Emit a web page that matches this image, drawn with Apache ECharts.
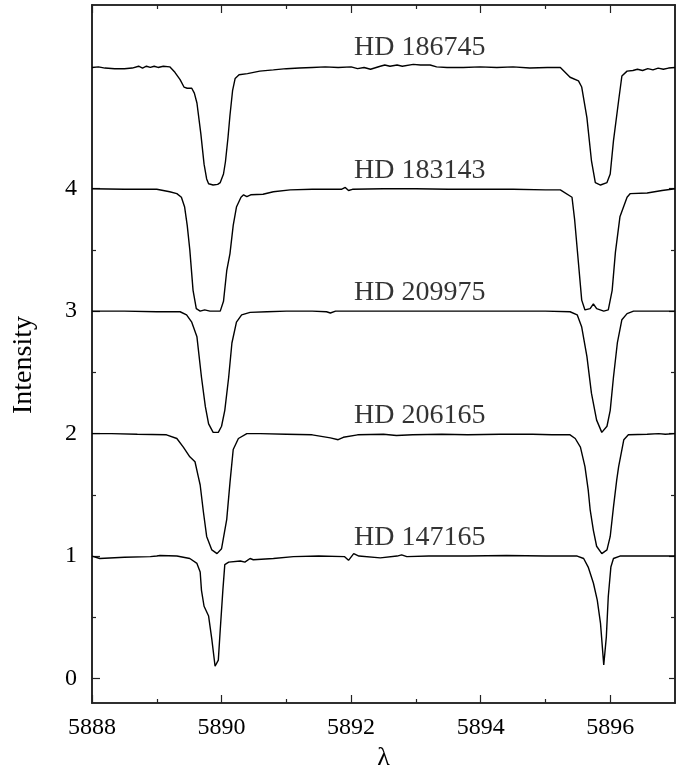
<!DOCTYPE html>
<html>
<head>
<meta charset="utf-8">
<script src="https://cdn.jsdelivr.net/npm/echarts@6/dist/echarts.min.js"></script>
<style>
  html, body { margin: 0; padding: 0; background: #fff; }
  #chart { width: 683px; height: 776px; }
</style>
</head>
<body>
<div id="chart"></div>
<script>
// Na I D interstellar lines: normalized flux of five stars, stacked by a vertical offset.
const starNames = ['HD 147165', 'HD 206165', 'HD 209975', 'HD 183143', 'HD 186745'];
const starOffsets = [0, 1, 2, 3, 4];

// [wavelength (Å), normalized flux]
const fluxHD147165 = [
  [5888.00, 1.00], [5888.03, 0.985], [5888.12, 0.98], [5888.50, 0.99], [5888.90, 0.995],
  [5889.00, 1.00], [5889.05, 1.005], [5889.31, 1.00], [5889.51, 0.98], [5889.62, 0.94],
  [5889.67, 0.87], [5889.69, 0.72], [5889.73, 0.59], [5889.80, 0.51], [5889.85, 0.32],
  [5889.90, 0.10], [5889.95, 0.15], [5889.98, 0.40], [5890.02, 0.72], [5890.05, 0.93],
  [5890.11, 0.95], [5890.29, 0.96], [5890.36, 0.95], [5890.44, 0.98], [5890.49, 0.97],
  [5890.80, 0.98], [5891.11, 0.995], [5891.50, 1.00], [5891.90, 0.995], [5891.96, 0.965],
  [5892.04, 1.02], [5892.12, 1.00], [5892.45, 0.985], [5892.71, 1.00], [5892.78, 1.01],
  [5892.86, 0.995], [5893.20, 1.00], [5893.80, 1.00], [5894.40, 1.005], [5895.00, 1.00],
  [5895.49, 1.00], [5895.59, 0.98], [5895.66, 0.91], [5895.74, 0.78], [5895.80, 0.64],
  [5895.85, 0.45], [5895.90, 0.11], [5895.94, 0.34], [5895.97, 0.67], [5896.01, 0.91],
  [5896.05, 0.98], [5896.15, 1.00], [5896.60, 1.00], [5897.00, 1.00]
];

const fluxHD206165 = [
  [5888.00, 1.00], [5888.30, 1.00], [5888.70, 0.995], [5889.15, 0.99], [5889.31, 0.96],
  [5889.41, 0.89], [5889.51, 0.81], [5889.59, 0.77], [5889.64, 0.65], [5889.67, 0.58],
  [5889.72, 0.36], [5889.77, 0.16], [5889.85, 0.05], [5889.93, 0.02], [5890.00, 0.06],
  [5890.08, 0.30], [5890.13, 0.60], [5890.18, 0.87], [5890.26, 0.96], [5890.39, 1.00],
  [5890.60, 1.00], [5891.00, 0.995], [5891.40, 0.99], [5891.68, 0.965], [5891.80, 0.95],
  [5891.88, 0.97], [5892.10, 0.99], [5892.50, 0.995], [5892.70, 0.985], [5892.95, 0.99],
  [5893.40, 0.995], [5893.80, 0.99], [5894.30, 0.995], [5894.80, 0.995], [5895.10, 0.99],
  [5895.38, 0.99], [5895.46, 0.96], [5895.54, 0.89], [5895.61, 0.73], [5895.66, 0.54],
  [5895.69, 0.38], [5895.74, 0.21], [5895.79, 0.08], [5895.87, 0.02], [5895.95, 0.05],
  [5896.00, 0.16], [5896.05, 0.40], [5896.10, 0.62], [5896.13, 0.73], [5896.21, 0.95],
  [5896.28, 0.99], [5896.57, 0.995], [5896.75, 1.00], [5896.85, 0.995], [5897.00, 1.00]
];

const fluxHD209975 = [
  [5888.00, 1.00], [5888.50, 1.00], [5889.00, 0.995], [5889.36, 0.995], [5889.46, 0.97],
  [5889.54, 0.91], [5889.62, 0.79], [5889.69, 0.46], [5889.75, 0.22], [5889.80, 0.08],
  [5889.87, 0.01], [5889.95, 0.01], [5890.00, 0.06], [5890.05, 0.19], [5890.11, 0.46],
  [5890.16, 0.74], [5890.23, 0.91], [5890.31, 0.97], [5890.44, 0.99], [5890.70, 0.995],
  [5891.00, 1.00], [5891.40, 1.00], [5891.62, 0.995], [5891.68, 0.985], [5891.76, 1.00],
  [5892.20, 1.00], [5892.80, 1.00], [5893.40, 1.00], [5894.00, 1.00], [5894.60, 1.00],
  [5895.00, 1.00], [5895.38, 0.995], [5895.49, 0.97], [5895.56, 0.87], [5895.64, 0.63],
  [5895.71, 0.33], [5895.79, 0.11], [5895.87, 0.01], [5895.95, 0.06], [5896.00, 0.19],
  [5896.05, 0.46], [5896.11, 0.74], [5896.18, 0.93], [5896.26, 0.98], [5896.36, 1.00],
  [5897.00, 1.00]
];

const fluxHD183143 = [
  [5888.00, 1.00], [5888.50, 0.995], [5889.00, 0.995], [5889.20, 0.975], [5889.31, 0.96],
  [5889.38, 0.93], [5889.43, 0.85], [5889.47, 0.70], [5889.51, 0.50], [5889.56, 0.17],
  [5889.61, 0.02], [5889.67, 0.00], [5889.74, 0.01], [5889.82, 0.00], [5889.98, 0.00],
  [5890.03, 0.08], [5890.08, 0.33], [5890.13, 0.47], [5890.18, 0.70], [5890.23, 0.85],
  [5890.30, 0.93], [5890.34, 0.95], [5890.39, 0.935], [5890.45, 0.95], [5890.64, 0.955],
  [5890.80, 0.975], [5891.06, 0.99], [5891.40, 0.995], [5891.85, 0.995], [5891.91, 1.01],
  [5891.96, 0.985], [5892.02, 0.995], [5892.50, 1.00], [5893.00, 1.00], [5893.50, 0.995],
  [5894.00, 0.995], [5894.50, 0.995], [5895.00, 0.99], [5895.23, 0.99], [5895.41, 0.93],
  [5895.45, 0.75], [5895.50, 0.45], [5895.56, 0.09], [5895.61, 0.01], [5895.69, 0.02],
  [5895.74, 0.06], [5895.79, 0.02], [5895.90, 0.00], [5895.97, 0.01], [5896.03, 0.17],
  [5896.08, 0.48], [5896.15, 0.77], [5896.26, 0.93], [5896.31, 0.96], [5896.57, 0.965],
  [5896.80, 0.985], [5897.00, 1.00]
];

const fluxHD186745 = [
  [5888.00, 0.99], [5888.10, 0.995], [5888.20, 0.985], [5888.35, 0.98], [5888.50, 0.98],
  [5888.62, 0.985], [5888.72, 1.00], [5888.78, 0.985], [5888.84, 1.00], [5888.90, 0.99],
  [5888.96, 1.00], [5889.02, 0.99], [5889.10, 1.00], [5889.20, 0.995], [5889.28, 0.95],
  [5889.36, 0.89], [5889.42, 0.83], [5889.47, 0.82], [5889.54, 0.82], [5889.58, 0.78],
  [5889.62, 0.70], [5889.68, 0.45], [5889.73, 0.20], [5889.77, 0.08], [5889.80, 0.04],
  [5889.87, 0.03], [5889.94, 0.035], [5889.98, 0.05], [5890.03, 0.12], [5890.06, 0.22],
  [5890.10, 0.42], [5890.13, 0.60], [5890.17, 0.80], [5890.21, 0.90], [5890.27, 0.93],
  [5890.40, 0.94], [5890.59, 0.96], [5890.80, 0.97], [5891.00, 0.98], [5891.20, 0.985],
  [5891.40, 0.99], [5891.60, 0.995], [5891.80, 0.99], [5892.00, 0.995], [5892.10, 0.98],
  [5892.20, 0.99], [5892.30, 0.975], [5892.45, 1.00], [5892.52, 1.01], [5892.60, 1.00],
  [5892.71, 1.01], [5892.79, 1.00], [5892.96, 1.015], [5893.07, 1.01], [5893.22, 1.01],
  [5893.32, 0.995], [5893.48, 0.99], [5893.73, 0.99], [5893.99, 0.995], [5894.25, 0.99],
  [5894.50, 0.995], [5894.76, 0.985], [5895.03, 0.99], [5895.23, 0.99], [5895.38, 0.91],
  [5895.51, 0.88], [5895.56, 0.83], [5895.64, 0.58], [5895.71, 0.23], [5895.77, 0.05],
  [5895.85, 0.03], [5895.95, 0.05], [5896.00, 0.12], [5896.05, 0.39], [5896.13, 0.72],
  [5896.18, 0.92], [5896.26, 0.96], [5896.35, 0.965], [5896.42, 0.975], [5896.50, 0.965],
  [5896.58, 0.98], [5896.66, 0.97], [5896.74, 0.985], [5896.82, 0.975], [5896.90, 0.985],
  [5897.00, 0.99]
];

const spectra = [fluxHD147165, fluxHD206165, fluxHD209975, fluxHD183143, fluxHD186745];

// Axis ticks and labels
const xMajorTicks = [5888, 5890, 5892, 5894, 5896];
const xMinorTicks = [5889, 5891, 5893, 5895];
const yMajorTicks = [0, 1, 2, 3, 4];
const yMinorTicks = [0.5, 1.5, 2.5, 3.5];

// Where each star name sits: wavelength of its centre, height above its continuum
const nameWavelength = 5893.06;
const nameLift = 1.15;

const FONT = 'Liberation Serif';
const INK = '#000';
const FRAME = '#222';

const chart = echarts.init(document.getElementById('chart'), null, { renderer: 'canvas' });

function xAxisDef(pos, ticks, len, withLabels) {
  return {
    type: 'value', position: pos, min: 5888, max: 5897,
    axisLine: { show: true, onZero: false, lineStyle: { color: FRAME, width: 1.6 } },
    axisTick: { show: true, inside: true, length: len, customValues: ticks,
                lineStyle: { color: FRAME, width: 1.2 } },
    axisLabel: withLabels
      ? { show: true, customValues: xMajorTicks, margin: 13, color: INK,
          fontFamily: FONT, fontSize: 24, formatter: v => String(v) }
      : { show: false },
    splitLine: { show: false }
  };
}

function yAxisDef(pos, ticks, len, withLabels) {
  return {
    type: 'value', position: pos, min: -0.2, max: 5.5,
    axisLine: { show: true, onZero: false, lineStyle: { color: FRAME, width: 1.6 } },
    axisTick: { show: true, inside: true, length: len, customValues: ticks,
                lineStyle: { color: FRAME, width: 1.2 } },
    axisLabel: withLabels
      ? { show: true, customValues: yMajorTicks, margin: 15, color: INK,
          fontFamily: FONT, fontSize: 24, formatter: v => String(v) }
      : { show: false },
    splitLine: { show: false }
  };
}

const xAxes = [
  Object.assign(xAxisDef('bottom', xMajorTicks, 8, true), {
    name: 'λ', nameLocation: 'middle', nameGap: 32,
    nameTextStyle: { color: INK, fontFamily: FONT, fontSize: 26 }
  }),
  xAxisDef('bottom', xMinorTicks, 4, false),
  xAxisDef('top', xMajorTicks, 8, false),
  xAxisDef('top', xMinorTicks, 4, false)
];

const yAxes = [
  Object.assign(yAxisDef('left', yMajorTicks, 8, true), {
    name: 'Intensity', nameLocation: 'middle', nameGap: 54, nameRotate: 90,
    nameTextStyle: { color: INK, fontFamily: FONT, fontSize: 28, padding: [0, 22, 0, 0] }
  }),
  yAxisDef('left', yMinorTicks, 4, false),
  yAxisDef('right', yMajorTicks, 6, false),
  yAxisDef('right', yMinorTicks, 4, false)
];

const spectrumSeries = spectra.map((pts, i) => ({
  type: 'line',
  name: starNames[i],
  xAxisIndex: 0, yAxisIndex: 0,
  showSymbol: false,
  symbol: 'none',
  smooth: false,
  silent: true,
  lineStyle: { color: INK, width: 1.4 },
  data: pts.map(p => [p[0], p[1] + starOffsets[i]]),
  z: 3
}));

const nameSeries = {
  type: 'scatter',
  xAxisIndex: 0, yAxisIndex: 0,
  symbol: 'circle', symbolSize: 1,
  itemStyle: { color: 'rgba(0,0,0,0)' },
  silent: true,
  label: {
    show: true, position: 'inside',
    formatter: p => p.data[2],
    color: INK, fontFamily: FONT, fontSize: 28,
    textBorderWidth: 0
  },
  data: starNames.map((n, i) => [nameWavelength, starOffsets[i] + nameLift, n]),
  z: 4
};

chart.setOption({
  animation: false,
  backgroundColor: '#fff',
  grid: { left: 92, right: 8, top: 5, bottom: 73, containLabel: false },
  xAxis: xAxes,
  yAxis: yAxes,
  series: spectrumSeries.concat([nameSeries])
});
</script>
</body>
</html>
